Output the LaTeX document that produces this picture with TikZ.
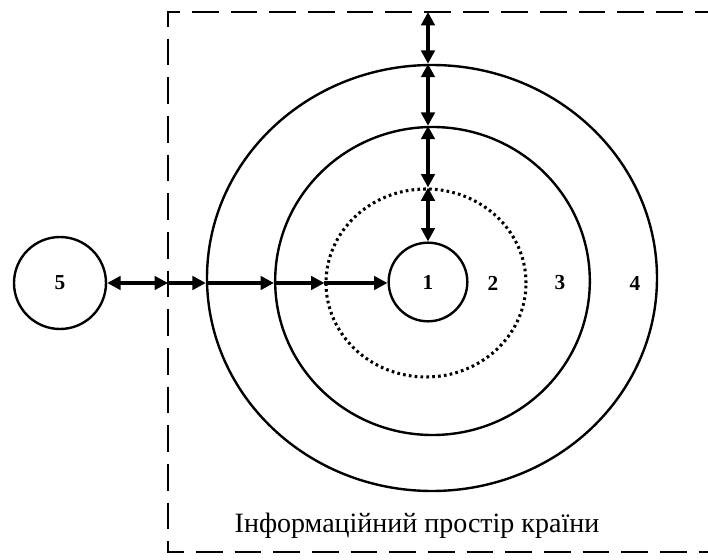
\documentclass[tikz,border=0pt]{standalone}
\usepackage{fontspec}
\setmainfont{Liberation Serif}
\usetikzlibrary{arrows.meta,shapes.geometric}
\tikzset{
  ring/.style={ellipse,draw,line width=1.8pt,inner sep=0pt},
  core/.style={circle,draw,line width=1.8pt,inner sep=0pt,font=\bfseries\fontsize{16}{18}\selectfont},
  num/.style={font=\bfseries\fontsize{16}{18}\selectfont},
  link/.style={line width=3pt,-{Triangle[length=10pt,width=10pt]}},
  dlink/.style={line width=3pt,{Triangle[length=10pt,width=10pt]}-{Triangle[length=10pt,width=10pt]}},
  border/.style={line width=1.7pt,dash pattern=on 20pt off 9pt}
}

\begin{document}
\begin{tikzpicture}[x=0.75pt,y=-0.75pt]
\useasboundingbox (0,0) rectangle (708,560);
\clip (0,0) rectangle (708,560);

% outer space
\draw[border] (760,12) -| (168,552) -- (760,552);
\node[font=\fontsize{21}{24}\selectfont] (title) at (417,526) {Інформаційний простір країни};

% rings
\node[ring,minimum width=337.5pt,minimum height=319.5pt] (ring4) at (432,278) {};
\node[ring,minimum width=236pt,minimum height=231pt] (ring3) at (432.5,281) {};
\node[ring,line width=2.3pt,dash pattern=on 2pt off 2.4pt,minimum width=150pt,minimum height=141pt] (ring2) at (426,283) {};
\node[core,minimum size=59pt] (c1) at (428,282) {1};
\node[core,minimum size=69pt] (c5) at (60,283) {5};

\node[num] (n2) at (493,283) {2};
\node[num] (n3) at (560,283) {3};
\node[num] (n4) at (635,283) {4};

% entry points
\coordinate (gate) at (168,283);
\coordinate (top) at (428,12);

% horizontal chain
\draw[dlink] (c5.east) -- (gate);
\draw[link] (gate) -- (ring4.west |- gate);
\draw[link] (ring4.west |- gate) -- (ring3.west |- gate);
\draw[link] (ring3.west |- gate) -- (ring2.west |- gate);
\draw[link] (ring2.west |- gate) -- (c1.west |- gate);

% vertical chain
\draw[dlink] (top) -- (top |- ring4.north);
\draw[dlink] (top |- ring4.north) -- (top |- ring3.north);
\draw[dlink] (top |- ring3.north) -- (top |- ring2.north);
\draw[dlink] (top |- ring2.north) -- (c1.north);
\end{tikzpicture}
\end{document}
